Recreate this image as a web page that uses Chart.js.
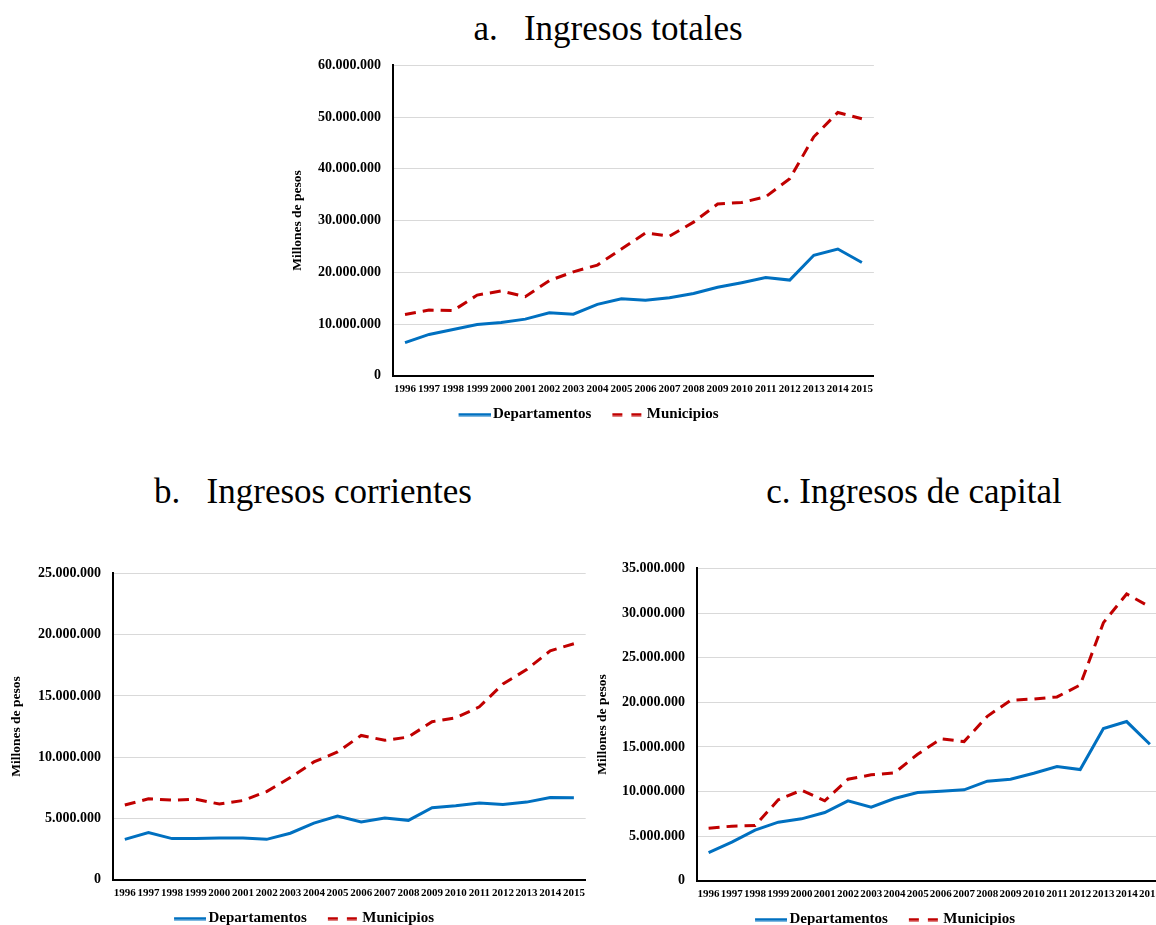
<!DOCTYPE html>
<html>
<head>
<meta charset="utf-8">
<script src="https://cdn.jsdelivr.net/npm/chart.js@4.4.1/dist/chart.umd.min.js"></script>
<style>
  body { margin: 0; width: 1156px; height: 925px; overflow: hidden; background: #fff; position: relative; font-family: "Liberation Serif", serif; }
  .titulo { position: absolute; font-size: 35px; color: #000; white-space: pre; text-align: center; width: 500px; line-height: 40px; }
  .caja { position: absolute; }
</style>
</head>
<body>
<div class="titulo" style="left:358px; top:9px;">a.   Ingresos totales</div>
<div class="titulo" style="left:63px; top:472px;">b.   Ingresos corrientes</div>
<div class="titulo" style="left:664px; top:472px;">c. Ingresos de capital</div>

<canvas id="graficaTotales" class="caja" style="left:285px; top:45px;"></canvas>
<canvas id="graficaCorrientes" class="caja" style="left:4px; top:553px;"></canvas>
<canvas id="graficaCapital" class="caja" style="left:590px; top:548px;"></canvas>

<script>
const anios = ['1996','1997','1998','1999','2000','2001','2002','2003','2004','2005',
               '2006','2007','2008','2009','2010','2011','2012','2013','2014','2015'];

// a. Ingresos totales
const deptosTotales = [6400000, 8000000, 8950000, 9900000, 10300000, 10950000, 12200000, 11900000, 13800000, 14900000,
                       14600000, 15100000, 15900000, 17100000, 18000000, 19000000, 18500000, 23300000, 24500000, 21900000];
const munisTotales = [11850000, 12700000, 12600000, 15600000, 16400000, 15300000, 18400000, 20100000, 21400000, 24500000,
                      27600000, 27000000, 29700000, 33200000, 33500000, 34600000, 38100000, 46200000, 50900000, 49700000];

// b. Ingresos corrientes
const deptosCorrientes = [3300000, 3850000, 3360000, 3360000, 3410000, 3410000, 3300000, 3800000, 4630000, 5200000,
                          4710000, 5040000, 4850000, 5880000, 6040000, 6260000, 6150000, 6340000, 6720000, 6690000];
const munisCorrientes = [6100000, 6610000, 6500000, 6580000, 6180000, 6470000, 7200000, 8340000, 9620000, 10430000,
                         11780000, 11380000, 11650000, 12900000, 13220000, 14110000, 15980000, 17150000, 18690000, 19260000];

// c. Ingresos de capital
const deptosCapital = [3170000, 4330000, 5670000, 6570000, 6940000, 7650000, 8960000, 8250000, 9220000, 9890000,
                       10040000, 10190000, 11160000, 11380000, 12050000, 12800000, 12460000, 17050000, 17840000, 15300000];
const munisCapital = [5900000, 6120000, 6190000, 9070000, 10150000, 8960000, 11380000, 11870000, 12090000, 14180000,
                      15900000, 15600000, 18430000, 20220000, 20370000, 20600000, 21940000, 28920000, 32130000, 30700000];

const fuente = '"Liberation Serif", serif';
const azul = '#0070c0';
const rojo = '#c00000';

function conPuntos(v) {
  return String(v).replace(/\B(?=(\d{3})+(?!\d))/g, '.');
}

// muestra de línea para la leyenda (con margen a la izquierda para separar items)
function muestraLinea(color, guiones) {
  const c = document.createElement('canvas');
  c.width = 54;
  c.height = 4;
  const ctx = c.getContext('2d');
  ctx.strokeStyle = color;
  ctx.lineWidth = 3;
  ctx.setLineDash(guiones);
  ctx.beginPath();
  ctx.moveTo(22, 2);
  ctx.lineTo(54, 2);
  ctx.stroke();
  return c;
}

function crearGrafica(id, ancho, alto, anchoEje, deptos, munis, maximo, paso) {
  const canvas = document.getElementById(id);
  canvas.width = ancho;
  canvas.height = alto;
  new Chart(canvas, {
    type: 'line',
    data: {
      labels: anios,
      datasets: [{
        label: 'Departamentos',
        data: deptos,
        borderColor: azul,
        backgroundColor: azul,
        borderWidth: 3,
        pointRadius: 0,
        pointStyle: muestraLinea(azul, [])
      }, {
        label: 'Municipios',
        data: munis,
        borderColor: rojo,
        backgroundColor: rojo,
        borderWidth: 3,
        borderDash: [11, 7],
        pointRadius: 0,
        pointStyle: muestraLinea(rojo, [10, 9])
      }]
    },
    options: {
      responsive: false,
      animation: false,
      layout: { padding: { top: 16, right: 5, left: 0, bottom: 0 } },
      plugins: {
        legend: {
          position: 'bottom',
          labels: {
            usePointStyle: true,
            pointStyleWidth: 44,
            color: '#000',
            padding: 4,
            font: { family: fuente, size: 15, weight: 'bold' }
          }
        },
        tooltip: { enabled: false }
      },
      scales: {
        x: {
          offset: true,
          grid: { display: false, drawTicks: false },
          border: { color: '#000', width: 2 },
          ticks: {
            color: '#000',
            maxRotation: 0,
            autoSkip: false,
            padding: 7,
            font: { family: fuente, size: 11, weight: 'bold' }
          }
        },
        y: {
          min: 0,
          max: maximo,
          grid: { color: '#d9d9d9', drawTicks: false },
          border: { color: '#000', width: 2 },
          ticks: {
            stepSize: paso,
            color: '#000',
            padding: 12,
            callback: v => conPuntos(v),
            font: { family: fuente, size: 14, weight: 'bold' }
          },
          title: {
            display: true,
            text: 'Millones de pesos',
            color: '#000',
            font: { family: fuente, size: 13.5, weight: 'bold' }
          },
          afterFit: escala => { escala.width = anchoEje; }
        }
      }
    }
  });
}

window.onload = function () {
  crearGrafica('graficaTotales', 595, 387, 108, deptosTotales, munisTotales, 60000000, 10000000);
  crearGrafica('graficaCorrientes', 588, 383, 109, deptosCorrientes, munisCorrientes, 25000000, 5000000);
  crearGrafica('graficaCapital', 578, 389, 107, deptosCapital, munisCapital, 35000000, 5000000);
};
</script>
</body>
</html>
